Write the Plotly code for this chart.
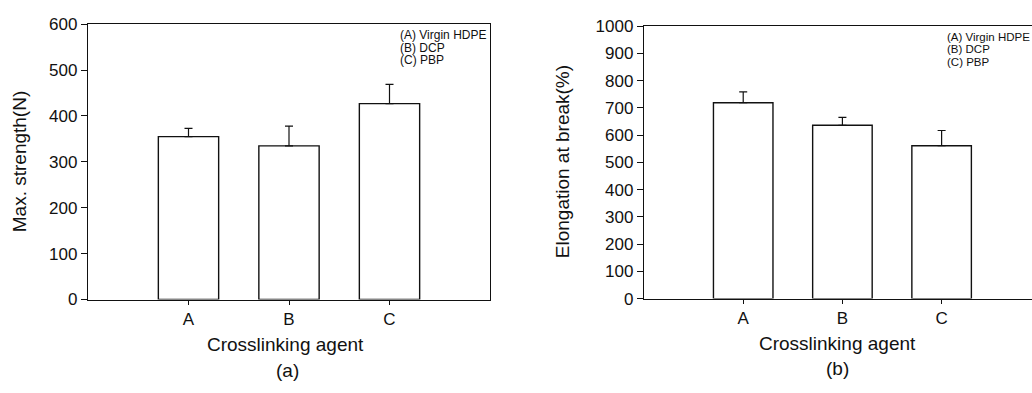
import plotly.graph_objects as go

W, H = 1032, 393

categories = ["A", "B", "C"]
strength_values = [355, 335, 427]
strength_errors = [18, 43, 42]
elong_values = [719, 636, 561]
elong_errors = [40, 29, 56]
legend_labels = ["(A) Virgin HDPE", "(B) DCP", "(C) PBP"]
y1_ticks = [0, 100, 200, 300, 400, 500, 600]
y2_ticks = [0, 100, 200, 300, 400, 500, 600, 700, 800, 900, 1000]

FONT = "Liberation Sans, Arial, Helvetica, sans-serif"
INK = "#111111"


def px_x(p):
    return p / W


def px_y(p):
    return 1 - p / H


fig = go.Figure()

for vals, errs, xa, ya in [
    (strength_values, strength_errors, "x", "y"),
    (elong_values, elong_errors, "x2", "y2"),
]:
    fig.add_trace(go.Bar(
        x=categories, y=vals, width=0.6,
        marker=dict(color="white", line=dict(color=INK, width=1.4)),
        error_y=dict(type="data", array=errs, arrayminus=[0] * len(errs),
                     symmetric=False, color=INK, thickness=1.2, width=4),
        xaxis=xa, yaxis=ya, showlegend=False,
    ))

axis_common = dict(showline=True, linecolor=INK, linewidth=1.4, showgrid=False,
                   zeroline=False, ticks="outside", tickcolor=INK,
                   tickfont=dict(family=FONT, size=17, color=INK))

fig.update_layout(
    width=W, height=H, margin=dict(l=0, r=0, t=0, b=0),
    paper_bgcolor="white", plot_bgcolor="white",
    bargap=0.4,
    xaxis=dict(domain=[px_x(88), px_x(490)], range=[-1, 3], mirror=True,
               ticklen=4, anchor="y", **axis_common),
    yaxis=dict(domain=[px_y(305.3), px_y(16)], range=[0, 600], tickvals=y1_ticks,
               mirror=True, ticklen=6, anchor="x", **axis_common),
    xaxis2=dict(domain=[px_x(644), 1.0], range=[-1, 2.911], mirror=True,
                ticklen=4, anchor="y2", **axis_common),
    yaxis2=dict(domain=[px_y(304.3), px_y(18)], range=[0, 1000], tickvals=y2_ticks,
                mirror=False, ticklen=6, anchor="x2", **axis_common),
)

ann = []


def add_text(text, x, y, size, xanchor="center", angle=0):
    ann.append(dict(text=text, x=px_x(x), y=px_y(y), xref="paper", yref="paper",
                    xanchor=xanchor, yanchor="middle", showarrow=False,
                    textangle=angle, font=dict(family=FONT, size=size, color=INK)))


# titles
add_text("Crosslinking agent", 285, 353, 19)
add_text("(a)", 287, 380, 19)
add_text("Crosslinking agent", 837, 352, 19)
add_text("(b)", 837, 378, 19)
add_text("Max. strength(N)", 19.5, 160.5, 19, angle=-90)
add_text("Elongation at break(%)", 562, 161, 19, angle=-90)

# in-plot legend text
for i, lab in enumerate(legend_labels):
    add_text(lab, 398, 27 + 13.5 * i, 12, xanchor="left")
    add_text(lab, 945, 29 + 13.5 * i, 11.5, xanchor="left")

fig.update_layout(annotations=ann)

fig.write_html("out.html")
